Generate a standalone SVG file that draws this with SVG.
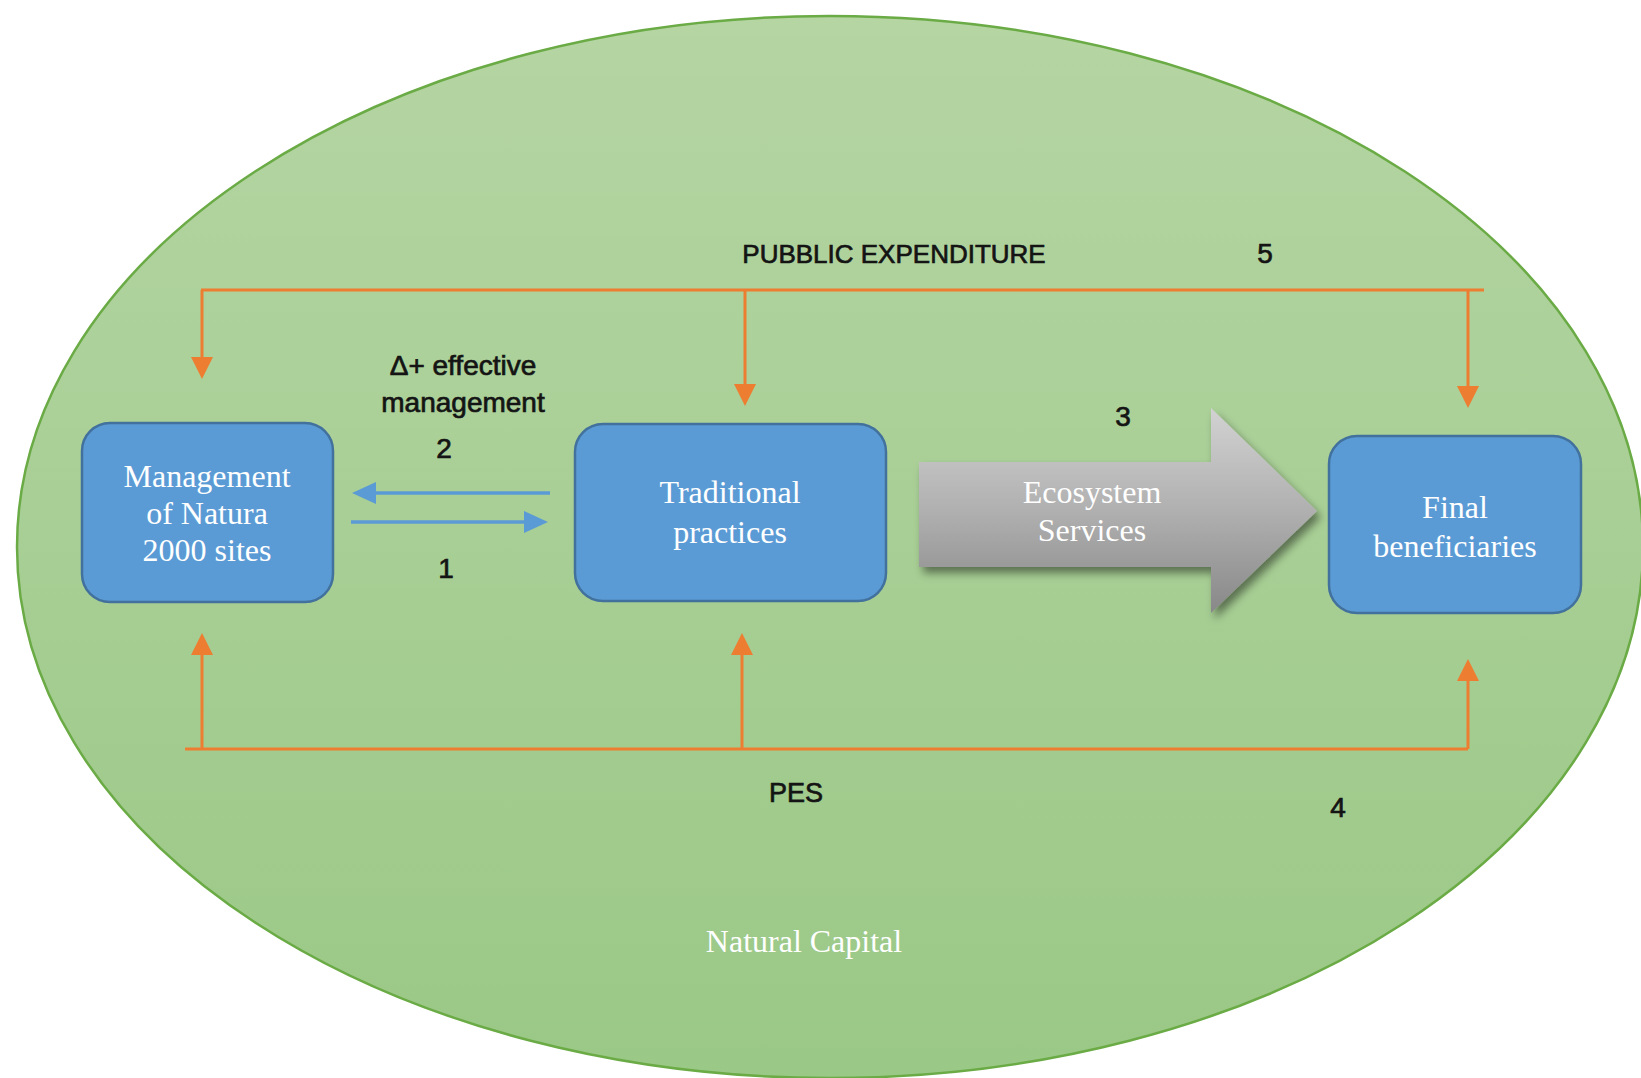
<svg xmlns="http://www.w3.org/2000/svg" width="1641" height="1078" viewBox="0 0 1641 1078">
<style>
.box{fill:#5b9bd5;stroke:#41719c;stroke-width:2.5}
.bt{font-family:"Liberation Serif","Times New Roman",serif;font-size:32px;fill:#ffffff;text-anchor:middle}
.lb{font-family:"Liberation Sans",Arial,sans-serif;font-size:28px;fill:#141414;stroke:#141414;stroke-width:0.7;text-anchor:middle}
.or{fill:none;stroke:#ed7d31;stroke-width:3}
.bl{fill:none;stroke:#5b9bd5;stroke-width:3.5}
</style>
<defs>
<linearGradient id="gEll" x1="0" y1="0" x2="0" y2="1">
<stop offset="0" stop-color="#b5d5a3"/>
<stop offset="1" stop-color="#9ac886"/>
</linearGradient>
<linearGradient id="gGray" x1="0" y1="0" x2="0" y2="1">
<stop offset="0" stop-color="#d2d2d2"/>
<stop offset="0.5" stop-color="#b0b0b0"/>
<stop offset="1" stop-color="#888888"/>
</linearGradient>
<filter id="sh" x="-10%" y="-10%" width="130%" height="130%">
<feDropShadow dx="4" dy="6" stdDeviation="4" flood-color="#000" flood-opacity="0.45"/>
</filter>
<marker id="mO" markerUnits="userSpaceOnUse" markerWidth="22" markerHeight="22" refX="14" refY="11" orient="auto">
<path d="M0,0 L22,11 L0,22 z" fill="#ed7d31"/>
</marker>
<marker id="mB" markerUnits="userSpaceOnUse" markerWidth="24" markerHeight="22" refX="14" refY="11" orient="auto">
<path d="M0,0 L24,11 L0,22 z" fill="#5b9bd5"/>
</marker>
</defs>
<g id="natural-capital">
<ellipse cx="830" cy="547" rx="813" ry="531" fill="url(#gEll)" stroke="#6aab45" stroke-width="2.5"/>
<text class="bt" x="804" y="952">Natural Capital</text>
</g>
<g id="connectors">
<path class="or" d="M201,290 H1484"/>
<path class="or" d="M202,290 V371" marker-end="url(#mO)"/>
<path class="or" d="M745,290 V398" marker-end="url(#mO)"/>
<path class="or" d="M1468,290 V400" marker-end="url(#mO)"/>
<path class="or" d="M185,749 H1468"/>
<path class="or" d="M202,749 V641" marker-end="url(#mO)"/>
<path class="or" d="M742,749 V641" marker-end="url(#mO)"/>
<path class="or" d="M1468,749 V667" marker-end="url(#mO)"/>
<path class="bl" d="M550,493 H362" marker-end="url(#mB)"/>
<path class="bl" d="M351,522 H538" marker-end="url(#mB)"/>
</g>
<g id="labels">
<text class="lb" x="894" y="263" style="font-size:26px">PUBBLIC EXPENDITURE</text>
<text class="lb" x="1265" y="263">5</text>
<text class="lb" x="463" y="375">Δ+ effective</text>
<text class="lb" x="463" y="412">management</text>
<text class="lb" x="444" y="458">2</text>
<text class="lb" x="446" y="578">1</text>
<text class="lb" x="1123" y="426">3</text>
<text class="lb" x="796" y="802" style="font-size:27px">PES</text>
<text class="lb" x="1338" y="817">4</text>
</g>
<g id="management-natura-2000">
<rect class="box" x="82" y="423" width="251" height="179" rx="28"/>
<text class="bt" x="207" y="487">Management</text>
<text class="bt" x="207" y="524">of Natura</text>
<text class="bt" x="207" y="561">2000 sites</text>
</g>
<g id="traditional-practices">
<rect class="box" x="575" y="424" width="311" height="177" rx="28"/>
<text class="bt" x="730" y="503">Traditional</text>
<text class="bt" x="730" y="543">practices</text>
</g>
<g id="ecosystem-services">
<path d="M919,462 H1211 V408 L1317,511 L1211,613 V567 H919 z" fill="url(#gGray)" filter="url(#sh)"/>
<text class="bt" x="1092" y="503">Ecosystem</text>
<text class="bt" x="1092" y="541">Services</text>
</g>
<g id="final-beneficiaries">
<rect class="box" x="1329" y="436" width="252" height="177" rx="28"/>
<text class="bt" x="1455" y="518">Final</text>
<text class="bt" x="1455" y="557">beneficiaries</text>
</g>
</svg>
